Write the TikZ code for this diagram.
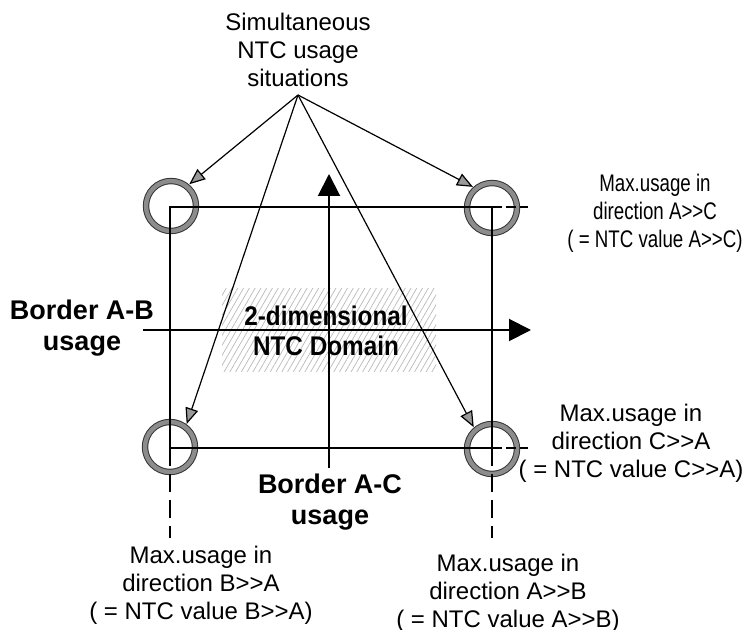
\documentclass[tikz,border=0pt]{standalone}
\usepackage{fontspec}
\setmainfont{Liberation Sans}
\newfontfamily\narrowfont[FakeStretch=0.78]{Liberation Sans}
\newfontfamily\domainfont[FakeStretch=0.9]{Liberation Sans}
\usetikzlibrary{arrows.meta,patterns.meta}

\tikzset{
  plainlabel/.style={align=center, font=\fontsize{12pt}{14pt}\selectfont, inner sep=0pt},
  narrowlabel/.style={align=center, font=\narrowfont\fontsize{12pt}{14pt}\selectfont, inner sep=0pt},
  boldlabel/.style={align=center, font=\bfseries\fontsize{13.5pt}{15.5pt}\selectfont, inner sep=0pt},
  domainlabel/.style={align=center, font=\domainfont\bfseries\fontsize{13.5pt}{15pt}\selectfont, inner sep=0pt},
  ring/.style={circle, minimum size=25pt, inner sep=0pt, outer sep=1.7pt,
    draw=black!80, line width=0.5pt, double=black!45, double distance=2.2pt},
  frameline/.style={line width=0.8pt},
  extline/.style={line width=0.8pt, dash pattern=on 9pt off 4pt},
  shortdash/.style={line width=0.8pt, dash pattern=on 5pt off 2pt},
  axis/.style={line width=1pt, -{Triangle[length=11pt,width=11pt]}},
  pointer/.style={line width=0.6pt, -{Triangle[length=8pt,width=6.5pt,fill=black!40]}},
  hatcharea/.style={pattern={Lines[angle=60,distance=2.5pt,line width=0.35pt]}, pattern color=gray!55}
}

\begin{document}
\begin{tikzpicture}[x=0.5pt,y=-0.5pt]
  \useasboundingbox (0,0) rectangle (744,630);

  % shaded domain behind the labels
  \path[hatcharea] (222,289) rectangle (436,372);

  % corner rings
  \node[ring] (cTL) at (171,206) {};
  \node[ring] (cTR) at (492,208) {};
  \node[ring] (cBL) at (170,447) {};
  \node[ring] (cBR) at (492,449) {};

  % domain frame
  \coordinate (kTL) at (170,207);
  \coordinate (kTR) at (492,207);
  \coordinate (kBR) at (492,448);
  \coordinate (kBL) at (170,448);
  \draw[frameline] (kTL) -- (kTR) -- (kBR) -- (kBL) -- cycle;

  % extensions beyond the frame
  \coordinate (eTR) at (528,207);
  \coordinate (eBR) at (528,448);
  \coordinate (eBLd) at (170,538);
  \coordinate (eBRd) at (492,538);
  \draw[shortdash] (kTR) -- (eTR);
  \draw[shortdash] (kBR) -- (eBR);
  \draw[extline] (kBL) -- (eBLd);
  \draw[extline] (kBR) -- (eBRd);

  % border usage axes
  \coordinate (hStart) at (143,330);
  \coordinate (hEnd) at (531,330);
  \coordinate (vStart) at (329,468);
  \coordinate (vEnd) at (329,174);
  \draw[axis] (hStart) -- (hEnd);
  \draw[axis] (vStart) -- (vEnd);

  % texts
  \node[plainlabel] (title) at (298,50) {Simultaneous\\NTC usage\\situations};
  \node[domainlabel] (dom) at (326,331) {2-dimensional\\NTC Domain};
  \node[boldlabel] (ab) at (82,328) {Border A-B\\usage};
  \node[boldlabel] (ac) at (330,502) {Border A-C\\usage};
  \node[narrowlabel] (lTR) at (655,213) {Max.usage in\\direction A>{}>C\\( = NTC value A>{}>C)};
  \node[plainlabel] (lMR) at (631,443) {Max.usage in\\direction C>{}>A\\( = NTC value C>{}>A)};
  \node[plainlabel] (lBL) at (201,585) {Max.usage in\\direction B>{}>A\\( = NTC value B>{}>A)};
  \node[plainlabel] (lBR) at (508,593) {Max.usage in\\direction A>{}>B\\( = NTC value A>{}>B)};

  % pointers to the simultaneous usage situations
  \coordinate (apex) at (298,95);
  \draw[pointer] (apex) -- (cTL.50);
  \draw[pointer] (apex) -- (cBL.54);
  \draw[pointer] (apex) -- (cTR.132);
  \draw[pointer] (apex) -- (cBR.130);
\end{tikzpicture}
\end{document}
